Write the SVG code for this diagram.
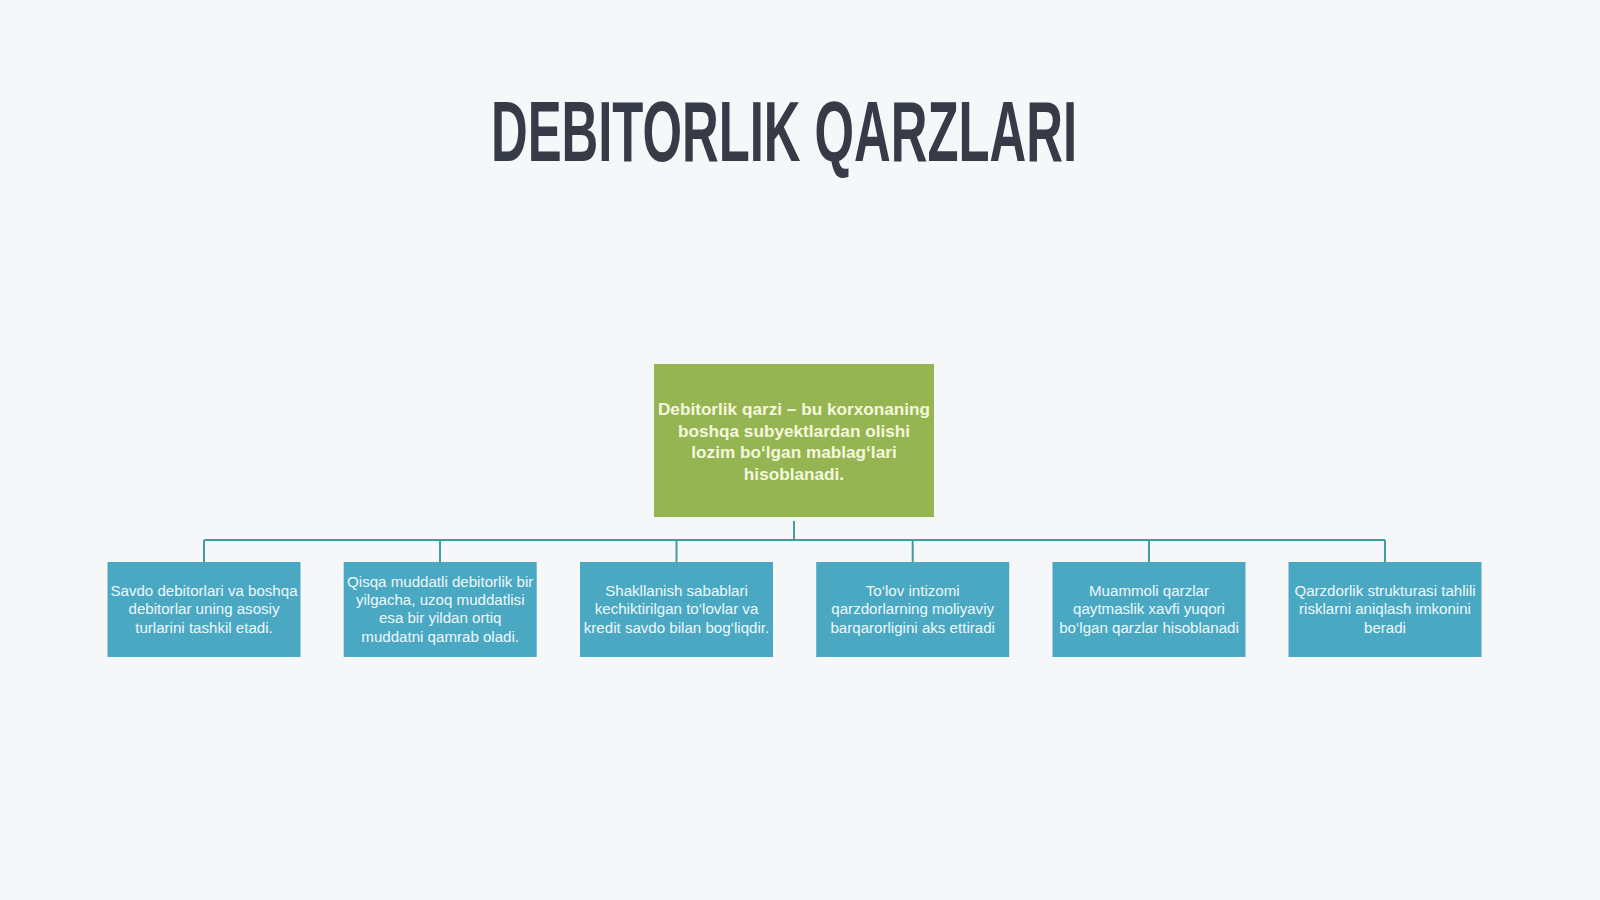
<svg xmlns="http://www.w3.org/2000/svg" width="1600" height="900" viewBox="0 0 1600 900">
<defs>
<style>
.title{font-family:"Liberation Sans",Arial,sans-serif;font-weight:bold;font-size:86px;fill:#363b47}
.main{fill:#94b551}
.mtext{font-family:"Liberation Sans",Arial,sans-serif;font-weight:bold;font-size:17.2px;fill:#f4f8dc;text-anchor:middle}
.sub{fill:#4aa8c3}
.stext{font-family:"Liberation Sans",Arial,sans-serif;font-size:15.1px;fill:#eef8fb;text-anchor:middle}
.conn{stroke:#3f9ea3;stroke-width:2;fill:none}
</style>
</defs>
<rect width="1600" height="900" fill="#f6f7f9"/>
<text class="title" x="491" y="161" textLength="586" lengthAdjust="spacingAndGlyphs">DEBITORLIK QARZLARI</text>
<g id="connectors">
<path class="conn" d="M794,521 V540 M204,540 H1385 M204,540 V562 M440,540 V562 M676.5,540 V562 M912.7,540 V562 M1149,540 V562 M1385,540 V562"/>
</g>
<g id="root">
<rect class="main" x="654" y="364" width="280" height="153"/>
<text class="mtext"><tspan x="794" y="415">Debitorlik qarzi – bu korxonaning</tspan><tspan x="794" y="436.5">boshqa subyektlardan olishi</tspan><tspan x="794" y="458">lozim bo‘lgan mablag‘lari</tspan><tspan x="794" y="479.5">hisoblanadi.</tspan></text>
</g>
<g id="n1">
<rect class="sub" x="107.5" y="562" width="193" height="95"/>
<text class="stext"><tspan x="204" y="596">Savdo debitorlari va boshqa</tspan><tspan x="204" y="614.4">debitorlar uning asosiy</tspan><tspan x="204" y="632.8">turlarini tashkil etadi.</tspan></text>
</g>
<g id="n2">
<rect class="sub" x="343.7" y="562" width="193" height="95"/>
<text class="stext"><tspan x="440.2" y="586.6">Qisqa muddatli debitorlik bir</tspan><tspan x="440.2" y="605">yilgacha, uzoq muddatlisi</tspan><tspan x="440.2" y="623.4">esa bir yildan ortiq</tspan><tspan x="440.2" y="641.8">muddatni qamrab oladi.</tspan></text>
</g>
<g id="n3">
<rect class="sub" x="580" y="562" width="193" height="95"/>
<text class="stext"><tspan x="676.5" y="596">Shakllanish sabablari</tspan><tspan x="676.5" y="614.4">kechiktirilgan to‘lovlar va</tspan><tspan x="676.5" y="632.8">kredit savdo bilan bog‘liqdir.</tspan></text>
</g>
<g id="n4">
<rect class="sub" x="816.2" y="562" width="193" height="95"/>
<text class="stext"><tspan x="912.7" y="596">To‘lov intizomi</tspan><tspan x="912.7" y="614.4">qarzdorlarning moliyaviy</tspan><tspan x="912.7" y="632.8">barqarorligini aks ettiradi</tspan></text>
</g>
<g id="n5">
<rect class="sub" x="1052.5" y="562" width="193" height="95"/>
<text class="stext"><tspan x="1149" y="596">Muammoli qarzlar</tspan><tspan x="1149" y="614.4">qaytmaslik xavfi yuqori</tspan><tspan x="1149" y="632.8">bo‘lgan qarzlar hisoblanadi</tspan></text>
</g>
<g id="n6">
<rect class="sub" x="1288.5" y="562" width="193" height="95"/>
<text class="stext"><tspan x="1385" y="596">Qarzdorlik strukturasi tahlili</tspan><tspan x="1385" y="614.4">risklarni aniqlash imkonini</tspan><tspan x="1385" y="632.8">beradi</tspan></text>
</g>
</svg>
